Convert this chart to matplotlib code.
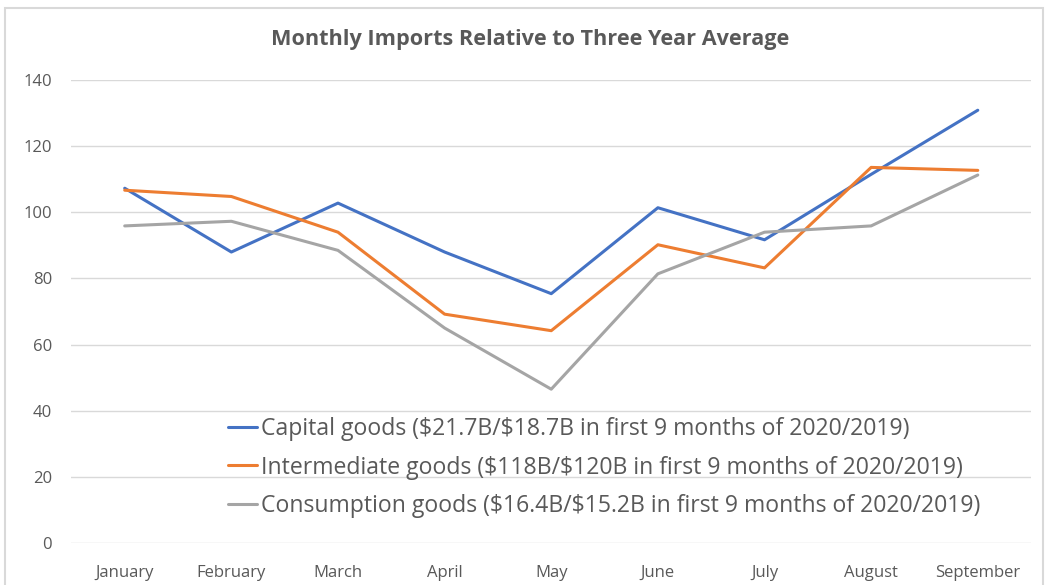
import matplotlib.pyplot as plt
from matplotlib.patches import Rectangle

# data
months = ["January", "February", "March", "April", "May",
          "June", "July", "August", "September"]
capital = [107.3, 88.0, 102.8, 88.0, 75.4, 101.4, 91.7, 111.5, 130.9]
intermediate = [106.7, 104.8, 94.0, 69.2, 64.2, 90.2, 83.2, 113.6, 112.7]
consumption = [95.9, 97.3, 88.5, 65.0, 46.5, 81.4, 94.0, 95.9, 111.3]

labels = [
    r"Capital goods (\$21.7B/\$18.7B in first 9 months of 2020/2019)",
    r"Intermediate goods (\$118B/\$120B in first 9 months of 2020/2019)",
    r"Consumption goods (\$16.4B/\$15.2B in first 9 months of 2020/2019)",
]
colors = ["#4472C4", "#ED7D31", "#A5A5A5"]

plt.rcParams['font.family'] = ['Open Sans', 'DejaVu Sans']
txt = "#595959"

fig = plt.figure(figsize=(10.5, 5.85), dpi=100)
ax = fig.add_axes([0.068, 0.072, 0.914, 0.791])

x = range(len(months))
for vals, lab, c in zip([capital, intermediate, consumption], labels, colors):
    ax.plot(x, vals, color=c, lw=2.2, label=lab, solid_capstyle='round')

ax.set_ylim(0, 140)
ax.set_yticks(range(0, 141, 20))
ax.set_xlim(-0.5, len(months) - 0.5)
ax.set_xticks(list(x))
ax.set_xticklabels(months)
ax.grid(axis='y', color='#d9d9d9', lw=1)
ax.set_axisbelow(True)
for s in ax.spines.values():
    s.set_visible(False)
ax.tick_params(length=0, labelsize=12, colors=txt)
ax.tick_params(axis='x', pad=16)
ax.tick_params(axis='y', pad=14)

fig.text(0.505, 1 - 40 / 585, "Monthly Imports Relative to Three Year Average",
         ha='center', va='center', fontsize=15.6, fontweight='bold', color=txt)

leg = ax.legend(loc='upper left', bbox_to_anchor=(0.163, 0.271), frameon=False,
                fontsize=16.6, handlelength=1.25, handletextpad=0.2,
                labelspacing=0.61, borderpad=0, borderaxespad=0)
for t in leg.get_texts():
    t.set_color(txt)

# chart area border
fig.patches.append(Rectangle((5 / 1050, -0.1), 1038 / 1050, 1.1 - 8 / 585,
                             transform=fig.transFigure, fill=False,
                             edgecolor='#d9d9d9', lw=1.5))

fig.savefig("out.png", dpi=100, facecolor='white')
